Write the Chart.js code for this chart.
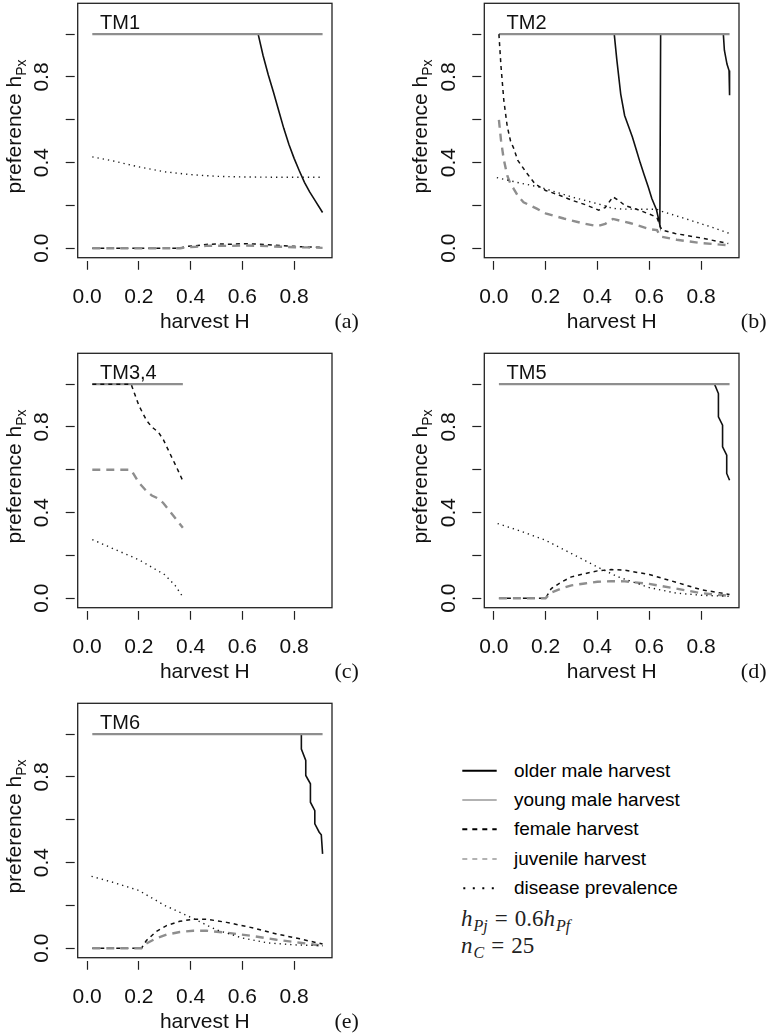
<!DOCTYPE html>
<html><head><meta charset="utf-8">
<script src="https://cdn.jsdelivr.net/npm/chart.js@4.4.1/dist/chart.umd.min.js"></script>
<style>
html,body{margin:0;padding:0;background:#fff;}
body{width:770px;height:1036px;position:relative;overflow:hidden;font-family:'Liberation Sans',Arial,sans-serif;}
canvas.pan{position:absolute;}
.leg{position:absolute;left:514px;font-size:19px;line-height:20px;height:20px;white-space:nowrap;color:#000;}
.math{position:absolute;left:461px;font-family:'Liberation Serif','Times New Roman',serif;font-size:23px;line-height:26px;white-space:nowrap;color:#222;}
.math .sb{font-size:16px;position:relative;top:5px;margin-left:1px;}
.math .eq{margin:0 7px;}
</style></head><body>
<canvas class="pan" id="p0" width="385" height="345" style="left:0;top:0"></canvas>
<canvas class="pan" id="p1" width="363" height="345" style="left:407px;top:0"></canvas>
<canvas class="pan" id="p2" width="385" height="345" style="left:0;top:350px"></canvas>
<canvas class="pan" id="p3" width="363" height="345" style="left:407px;top:350px"></canvas>
<canvas class="pan" id="p4" width="385" height="345" style="left:0;top:700px"></canvas>
<svg style="position:absolute;left:455px;top:755px" width="50" height="145">
  <line x1="7.3" x2="41.7" y1="15.7" y2="15.7" stroke="#000" stroke-width="2"/>
  <line x1="7.3" x2="41.7" y1="45" y2="45" stroke="#999" stroke-width="1.5"/>
  <line x1="7.3" x2="41.7" y1="74.3" y2="74.3" stroke="#000" stroke-width="2" stroke-dasharray="5,5"/>
  <line x1="7.3" x2="41.7" y1="104" y2="104" stroke="#999" stroke-width="1.5" stroke-dasharray="5,5"/>
  <line x1="8.3" x2="41.7" y1="133.3" y2="133.3" stroke="#000" stroke-width="2" stroke-dasharray="2,7.5"/>
</svg>
<div class="leg" style="top:760.7px">older male harvest</div>
<div class="leg" style="top:790px">young male harvest</div>
<div class="leg" style="top:819.3px">female harvest</div>
<div class="leg" style="top:849px">juvenile harvest</div>
<div class="leg" style="top:878.3px">disease prevalence</div>
<div class="math" style="top:906px"><i>h</i><span class="sb"><i>Pj</i></span><span class="eq">=</span>0.6<i>h</i><span class="sb"><i>Pf</i></span></div>
<div class="math" style="top:933px"><i>n</i><span class="sb"><i>C</i></span><span class="eq">=</span>25</div>
<script>
// ---------- axis / label data ----------
const xTicks = [0, 0.2, 0.4, 0.6, 0.8];
const xTickLabels = ['0.0', '0.2', '0.4', '0.6', '0.8'];
const yTicks = [0, 0.2, 0.4, 0.6, 0.8, 1.0];
const yTickLabels = ['0.0', '', '0.4', '', '0.8', ''];
const panelTitles = ['TM1', 'TM2', 'TM3,4', 'TM5', 'TM6'];
const panelTags = ['(a)', '(b)', '(c)', '(d)', '(e)'];

// ---------- series data: [harvest H, preference] ----------
// TM1
const TM1_older = [[0.661,1.0],[0.68,0.90],[0.70,0.81],[0.72,0.73],[0.74,0.645],[0.76,0.56],[0.78,0.485],[0.80,0.42],[0.82,0.362],[0.84,0.308],[0.86,0.263],[0.88,0.225],[0.91,0.167]];
const TM1_young = [[0.02,1.0],[0.91,1.0]];
const TM1_female = [[0.02,0],[0.36,0],[0.38,0.008],[0.42,0.012],[0.46,0.018],[0.5,0.02],[0.55,0.019],[0.6,0.021],[0.65,0.02],[0.7,0.017],[0.75,0.012],[0.8,0.009],[0.85,0.006],[0.91,0.004]];
const TM1_juvenile = [[0.02,0],[0.36,0],[0.38,0.005],[0.42,0.007],[0.46,0.011],[0.5,0.012],[0.55,0.011],[0.6,0.013],[0.65,0.012],[0.7,0.01],[0.75,0.007],[0.8,0.005],[0.85,0.004],[0.91,0.002]];
const TM1_disease = [[0.02,0.427],[0.1,0.408],[0.2,0.38],[0.3,0.357],[0.4,0.344],[0.5,0.336],[0.6,0.333],[0.7,0.332],[0.8,0.332],[0.91,0.332]];
// TM2
const TM2_older = [[0.44,1.0],[0.465,1.0],[0.475,0.88],[0.49,0.72],[0.505,0.62],[0.52,0.57],[0.535,0.52],[0.55,0.46],[0.565,0.40],[0.58,0.345],[0.596,0.287],[0.61,0.232],[0.628,0.18],[0.641,0.11],[0.644,1.0],[0.886,1.0],[0.89,0.925],[0.9,0.86],[0.908,0.83],[0.91,0.715]];
const TM2_young = [[0.02,1.0],[0.91,1.0]];
const TM2_female = [[0.02,1.0],[0.028,0.85],[0.039,0.69],[0.052,0.57],[0.065,0.5],[0.076,0.47],[0.093,0.41],[0.128,0.35],[0.16,0.30],[0.2,0.27],[0.244,0.252],[0.3,0.225],[0.35,0.205],[0.405,0.178],[0.43,0.19],[0.46,0.24],[0.48,0.225],[0.506,0.2],[0.557,0.18],[0.61,0.155],[0.63,0.143],[0.643,0.1],[0.65,0.085],[0.7,0.069],[0.8,0.048],[0.887,0.027],[0.905,0.022]];
const TM2_juvenile = [[0.02,0.6],[0.028,0.505],[0.038,0.42],[0.052,0.34],[0.065,0.3],[0.076,0.28],[0.093,0.245],[0.115,0.215],[0.166,0.185],[0.2,0.163],[0.27,0.139],[0.35,0.115],[0.4,0.103],[0.43,0.114],[0.46,0.137],[0.525,0.118],[0.603,0.089],[0.63,0.085],[0.643,0.055],[0.706,0.04],[0.796,0.025],[0.874,0.017],[0.905,0.014]];
const TM2_disease = [[0.012,0.33],[0.1,0.305],[0.18,0.285],[0.3,0.24],[0.425,0.2],[0.46,0.186],[0.5,0.183],[0.63,0.182],[0.65,0.172],[0.758,0.131],[0.85,0.095],[0.91,0.069]];
// TM3,4
const TM34_older = [];
const TM34_young = [[0.02,1.0],[0.37,1.0]];
const TM34_female = [[0.02,1.0],[0.17,1.0],[0.2,0.9],[0.23,0.83],[0.25,0.8],[0.275,0.776],[0.295,0.74],[0.32,0.676],[0.345,0.614],[0.37,0.548]];
const TM34_juvenile = [[0.02,0.6],[0.17,0.6],[0.2,0.54],[0.23,0.5],[0.25,0.48],[0.275,0.466],[0.295,0.444],[0.32,0.406],[0.345,0.368],[0.37,0.329]];
const TM34_disease = [[0.02,0.274],[0.1,0.232],[0.2,0.18],[0.3,0.11],[0.34,0.06],[0.37,0.006]];
// TM5
const TM5_older = [[0.852,1.0],[0.867,0.956],[0.867,0.847],[0.883,0.808],[0.883,0.707],[0.899,0.668],[0.899,0.583],[0.91,0.551]];
const TM5_young = [[0.02,1.0],[0.91,1.0]];
const TM5_female = [[0.02,0],[0.2,0],[0.222,0.045],[0.261,0.076],[0.3,0.1],[0.351,0.115],[0.4,0.128],[0.454,0.134],[0.506,0.131],[0.6,0.111],[0.7,0.076],[0.8,0.04],[0.91,0.018]];
const TM5_juvenile = [[0.02,0],[0.2,0],[0.222,0.027],[0.261,0.046],[0.3,0.06],[0.351,0.069],[0.4,0.077],[0.454,0.08],[0.506,0.079],[0.6,0.067],[0.7,0.046],[0.8,0.024],[0.91,0.011]];
const TM5_disease = [[0.015,0.349],[0.1,0.315],[0.2,0.271],[0.3,0.209],[0.4,0.146],[0.48,0.1],[0.6,0.05],[0.7,0.025],[0.8,0.014],[0.91,0.009]];
// TM6
const TM6_older = [[0.828,1.0],[0.828,0.93],[0.845,0.877],[0.845,0.807],[0.863,0.768],[0.863,0.682],[0.88,0.643],[0.88,0.581],[0.897,0.542],[0.905,0.53],[0.91,0.441]];
const TM6_young = [[0.02,1.0],[0.91,1.0]];
const TM6_female = [[0.02,0],[0.21,0],[0.229,0.036],[0.268,0.079],[0.307,0.106],[0.358,0.126],[0.41,0.136],[0.461,0.136],[0.539,0.121],[0.642,0.095],[0.732,0.067],[0.822,0.044],[0.91,0.02]];
const TM6_juvenile = [[0.02,0],[0.21,0],[0.229,0.022],[0.268,0.047],[0.307,0.064],[0.358,0.076],[0.41,0.082],[0.461,0.082],[0.539,0.073],[0.642,0.057],[0.732,0.04],[0.822,0.026],[0.91,0.012]];
const TM6_disease = [[0.017,0.336],[0.1,0.308],[0.2,0.27],[0.3,0.2],[0.4,0.145],[0.5,0.086],[0.6,0.048],[0.7,0.025],[0.8,0.016],[0.91,0.012]];

// ---------- chart building ----------
Chart.defaults.font.family = "'Liberation Sans', Arial, sans-serif";
const FONT = "'Liberation Sans', Arial, sans-serif";
const GRAY = '#8e8e8e';

function pts(arr){ return arr.map(p => ({x: p[0], y: p[1]})); }

function decor(idx){
  return {
    id: 'decor' + idx,
    afterDraw(chart){
      const {ctx, chartArea: a, scales: {y}} = chart;
      ctx.save();
      ctx.strokeStyle = '#222'; ctx.lineWidth = 1.3;
      ctx.strokeRect(a.left, a.top, a.right - a.left, a.bottom - a.top);
      ctx.fillStyle = '#111';
      // rotated y tick labels
      ctx.font = '21px ' + FONT; ctx.textAlign = 'center'; ctx.textBaseline = 'alphabetic';
      yTicks.forEach((v, i) => {
        if (!yTickLabels[i]) return;
        const py = y.getPixelForValue(v);
        ctx.save(); ctx.translate(a.left - 29.4, py); ctx.rotate(-Math.PI/2);
        ctx.fillText(yTickLabels[i], 0, 0); ctx.restore();
      });
      // y axis title with subscript
      const main = 'preference h', sub = 'Px';
      ctx.font = '21px ' + FONT; const w1 = ctx.measureText(main).width;
      ctx.font = '14px ' + FONT; const w2 = ctx.measureText(sub).width;
      const cy = (a.top + a.bottom) / 2 - 4;
      ctx.save(); ctx.translate(a.left - 57, cy); ctx.rotate(-Math.PI/2);
      ctx.textAlign = 'left';
      ctx.font = '21px ' + FONT; ctx.fillText(main, -(w1 + w2)/2, 0);
      ctx.font = '14px ' + FONT; ctx.fillText(sub, -(w1 + w2)/2 + w1, 5);
      ctx.restore();
      // panel title
      ctx.textAlign = 'left'; ctx.font = '20px ' + FONT;
      ctx.fillText(panelTitles[idx], a.left + 22.3, a.top + 26);
      // panel tag
      ctx.textAlign = 'center'; ctx.font = "22px 'Liberation Serif', serif";
      ctx.fillText(panelTags[idx], a.right + 14.7, a.bottom + 70.3);
      ctx.restore();
    }
  };
}

function makePanel(id, idx, s, yw, padRight){
  const datasets = [
    {label: 'disease prevalence', data: pts(s.disease), borderColor: '#1a1a1a', borderWidth: 1.4, borderDash: [1.3, 4]},
    {label: 'juvenile harvest', data: pts(s.juvenile), borderColor: GRAY, borderWidth: 2.4, borderDash: [8, 6]},
    {label: 'female harvest', data: pts(s.female), borderColor: '#111', borderWidth: 1.5, borderDash: [4, 4]},
    {label: 'young male harvest', data: pts(s.young), borderColor: GRAY, borderWidth: 2.2},
    {label: 'older male harvest', data: pts(s.older), borderColor: '#111', borderWidth: 1.6}
  ];
  datasets.forEach(d => { d.pointRadius = 0; d.fill = false; d.tension = 0; d.borderCapStyle = 'butt'; });
  new Chart(document.getElementById(id), {
    type: 'line',
    data: {datasets},
    options: {
      responsive: false, animation: false, events: [],
      layout: {padding: {top: 3.3, left: 0, right: padRight, bottom: 0}},
      plugins: {legend: {display: false}, tooltip: {enabled: false}},
      scales: {
        x: {
          type: 'linear', min: -0.0364, max: 0.9464,
          afterBuildTicks: sc => { sc.ticks = xTicks.map(v => ({value: v})); },
          afterFit: sc => { sc.height = 87.3; },
          border: {display: false},
          grid: {drawOnChartArea: false, drawTicks: true, tickLength: 12, tickColor: '#222', tickWidth: 1.2, tickBorderDash: [0, 3, 9, 100]},
          ticks: {autoSkip: false, maxRotation: 0, minRotation: 0, padding: 15, color: '#111', font: {size: 21}, callback: (v, i) => xTickLabels[i]},
          title: {display: true, text: 'harvest H', color: '#111', font: {size: 21, lineHeight: 1.2}, padding: {top: 0, bottom: 10.4}}
        },
        y: {
          type: 'linear', min: -0.044, max: 1.144,
          afterBuildTicks: sc => { sc.ticks = yTicks.map(v => ({value: v})); },
          afterFit: sc => { sc.width = yw; },
          border: {display: false},
          grid: {drawOnChartArea: false, drawTicks: true, tickLength: 12, tickColor: '#222', tickWidth: 1.2, tickBorderDash: [9, 100]},
          ticks: {display: false}
        }
      }
    },
    plugins: [decor(idx)]
  });
}

makePanel('p0', 0, {older: TM1_older, young: TM1_young, female: TM1_female, juvenile: TM1_juvenile, disease: TM1_disease}, 77.7, 53);
makePanel('p1', 1, {older: TM2_older, young: TM2_young, female: TM2_female, juvenile: TM2_juvenile, disease: TM2_disease}, 77.3, 31);
makePanel('p2', 2, {older: TM34_older, young: TM34_young, female: TM34_female, juvenile: TM34_juvenile, disease: TM34_disease}, 77.7, 53);
makePanel('p3', 3, {older: TM5_older, young: TM5_young, female: TM5_female, juvenile: TM5_juvenile, disease: TM5_disease}, 77.3, 31);
makePanel('p4', 4, {older: TM6_older, young: TM6_young, female: TM6_female, juvenile: TM6_juvenile, disease: TM6_disease}, 77.7, 53);
</script>
</body></html>
